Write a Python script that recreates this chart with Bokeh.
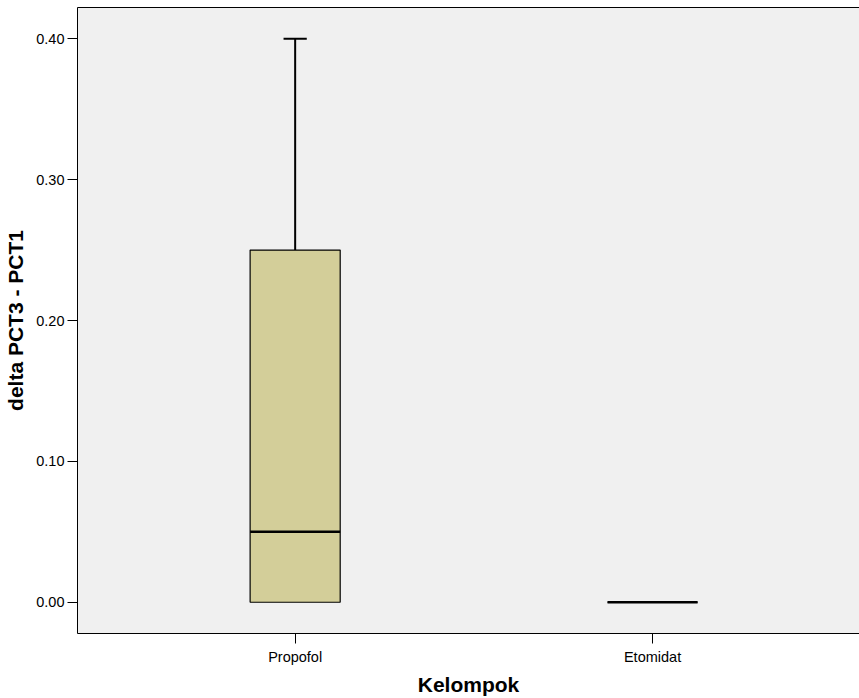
from bokeh.plotting import figure
from bokeh.models import FixedTicker, PrintfTickFormatter, LinearAxis, Range1d
from bokeh.embed import file_html
from bokeh.resources import INLINE

# Group summaries for delta PCT3 - PCT1
groups = ["Propofol", "Etomidat"]
mins = [0.00, 0.00]
q1s = [0.00, 0.00]
medians = [0.05, 0.00]
q3s = [0.25, 0.00]
maxs = [0.40, 0.00]
y_ticks = [0.00, 0.10, 0.20, 0.30, 0.40]

FONT = "Liberation Sans"
box_fill = "#d3ce99"
xs = [i + 1 for i in range(len(groups))]
box_w = 0.252
cap_w = 0.065

p = figure(width=859, height=698, output_backend="svg", toolbar_location=None,
           x_range=Range1d(0.391, 2.579), y_range=Range1d(-0.0222, 0.4222),
           min_border_left=77, min_border_right=0, min_border_top=7,
           min_border_bottom=64)
p.background_fill_color = "#f0f0f0"
p.border_fill_color = "white"
p.outline_line_color = None
p.xgrid.visible = False
p.ygrid.visible = False

# whiskers and caps
for x, lo, q1, q3, hi in zip(xs, mins, q1s, q3s, maxs):
    if hi > q3:
        p.segment(x0=[x], y0=[q3], x1=[x], y1=[hi], line_color="black", line_width=2)
        p.segment(x0=[x - cap_w / 2], y0=[hi], x1=[x + cap_w / 2], y1=[hi],
                  line_color="black", line_width=2)
    if lo < q1:
        p.segment(x0=[x], y0=[lo], x1=[x], y1=[q1], line_color="black", line_width=2)
        p.segment(x0=[x - cap_w / 2], y0=[lo], x1=[x + cap_w / 2], y1=[lo],
                  line_color="black", line_width=2)

# boxes
p.quad(left=[x - box_w / 2 for x in xs], right=[x + box_w / 2 for x in xs],
       bottom=q1s, top=q3s, fill_color=box_fill, line_color="black", line_width=1.2)

# medians
p.segment(x0=[x - box_w / 2 for x in xs], y0=medians,
          x1=[x + box_w / 2 for x in xs], y1=medians,
          line_color="black", line_width=2.6)

# y axis
ya = p.yaxis[0]
ya.ticker = FixedTicker(ticks=y_ticks)
ya.formatter = PrintfTickFormatter(format="%.2f")
ya.axis_label = "delta PCT3 - PCT1"
ya.axis_label_text_font = FONT
ya.axis_label_text_font_style = "bold"
ya.axis_label_text_font_size = "21px"
ya.axis_label_text_color = "black"
ya.major_label_text_font = FONT
ya.major_label_text_font_size = "14.5px"
ya.major_label_text_color = "black"
ya.major_tick_out = 10
ya.major_tick_in = 0
ya.minor_tick_line_color = None
ya.axis_line_color = "black"
ya.major_tick_line_color = "black"
ya.major_label_standoff = 3
ya.axis_label_standoff = 6

# x axis
xa = p.xaxis[0]
xa.ticker = FixedTicker(ticks=xs)
xa.major_label_overrides = {x: g for x, g in zip(xs, groups)}
xa.axis_label = "Kelompok"
xa.axis_label_text_font = FONT
xa.axis_label_text_font_style = "bold"
xa.axis_label_text_font_size = "21px"
xa.axis_label_text_color = "black"
xa.major_label_text_font = FONT
xa.major_label_text_font_size = "14.5px"
xa.major_label_text_color = "black"
xa.major_tick_out = 10
xa.major_tick_in = 0
xa.minor_tick_line_color = None
xa.axis_line_color = "black"
xa.major_tick_line_color = "black"
xa.major_label_standoff = 5
xa.axis_label_standoff = 5

# top frame line
top = LinearAxis(major_tick_line_color=None, minor_tick_line_color=None,
                 major_label_text_font_size="0px", axis_line_color="black",
                 major_label_standoff=0)
top.ticker = FixedTicker(ticks=[])
p.add_layout(top, "above")

open("out.html", "w").write(file_html(p, INLINE))
